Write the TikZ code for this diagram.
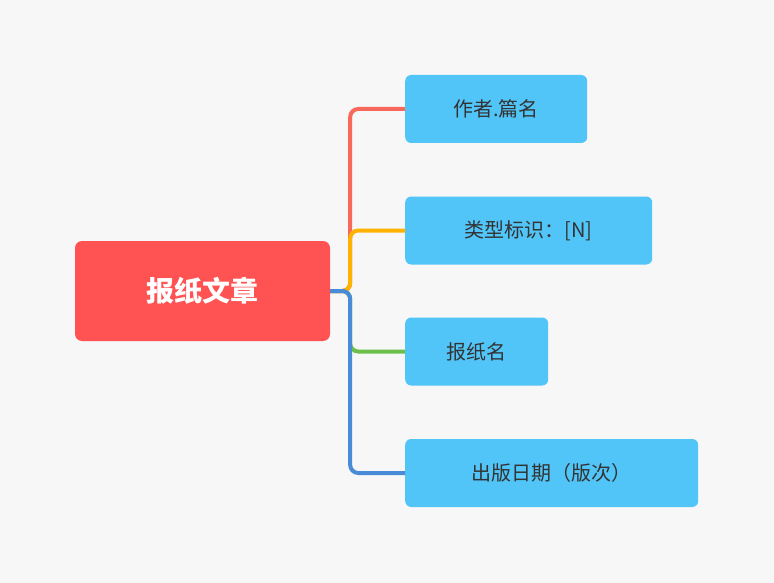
\documentclass[tikz,border=0pt]{standalone}
\usepackage{fontspec}
\setmainfont{Noto Sans CJK SC}
\begin{document}
\begin{tikzpicture}[x=1pt,y=-1pt,
  child/.style={fill=cb,rounded corners=6pt,minimum height=68pt,text=tx,font=\fontsize{20}{24}\selectfont,anchor=west,inner xsep=0pt,align=center},
  conn/.style={line width=4pt,rounded corners=8pt}]
\definecolor{bg}{HTML}{F7F7F7}
\definecolor{cb}{HTML}{52C5F8}
\definecolor{tx}{HTML}{333333}
\definecolor{rt}{HTML}{FF5252}
\definecolor{c1}{HTML}{F8695B}
\definecolor{c2}{HTML}{FFB300}
\definecolor{c3}{HTML}{6CC04A}
\definecolor{c4}{HTML}{4A8BD8}
\fill[bg] (0,0) rectangle (774,583);
\useasboundingbox (0,0) rectangle (774,583);
\node[fill=rt,rounded corners=7pt,minimum width=255pt,minimum height=100pt,text=white,font=\fontsize{28}{32}\selectfont\bfseries] (r) at (202.5,291) {报纸文章};
\node[child,minimum width=182pt] (a) at (405,109) {作者.篇名};
\node[child,minimum width=247pt] (b) at (405,230.5) {类型标识：[N]};
\node[child,minimum width=143pt] (c) at (405,351.5) {报纸名};
\node[child,minimum width=293pt] (d) at (405,473) {出版日期（版次）};
\draw[conn,c1] (r.east) -- ++(20,0) |- (a.west);
\draw[conn,c2] (r.east) -- ++(20,0) |- (b.west);
\draw[conn,c3] (r.east) -- ++(20,0) |- (c.west);
\draw[conn,c4] (r.east) -- ++(20,0) |- (d.west);
\end{tikzpicture}
\end{document}
